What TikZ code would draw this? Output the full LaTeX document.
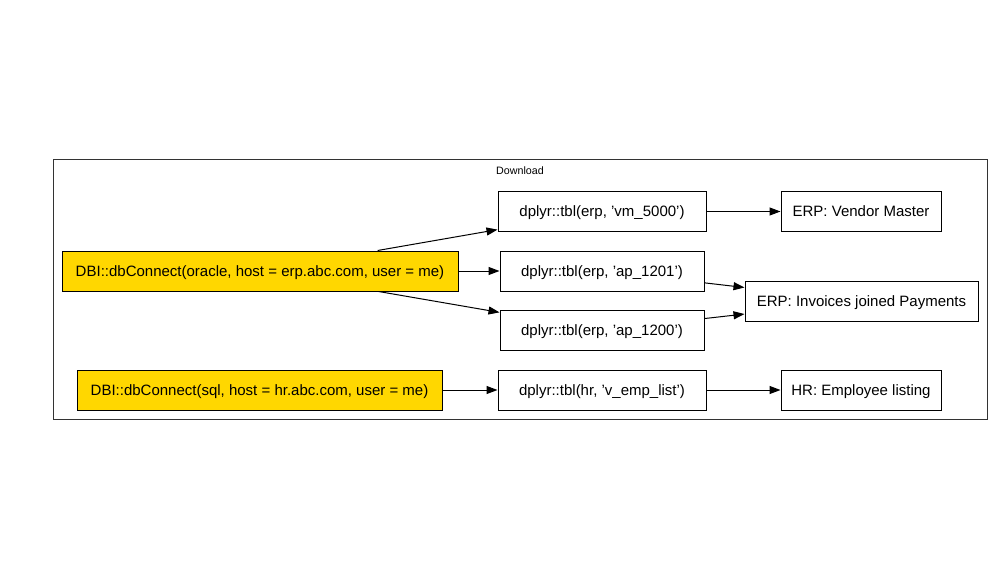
\documentclass[tikz,border=0pt]{standalone}
\usepackage{fontspec}
\setmainfont{Liberation Sans}
\usetikzlibrary{arrows.meta, positioning}
\definecolor{gold}{RGB}{255, 215, 0}

\begin{document}
\begin{tikzpicture}[x=1pt, y=-1pt, every node/.style={draw, rectangle, line width=1pt, minimum height=40pt, inner sep=0pt, text height=11pt, text depth=0.5pt, font=\fontsize{15}{18}\selectfont}, conn/.style={fill=gold}, link/.style={-{Triangle[length=11pt, width=8pt]}, line width=1pt}]
    \useasboundingbox (0,0) rectangle (1000,580);
    \draw[line width=1pt, draw=black!80] (53,160) rectangle (987,419);
    \node[draw=none, minimum height=0pt, text height=7.5pt, text depth=0pt, font=\fontsize{10.7}{12}\selectfont] (lbl) at (520,171) {Download};
    \node[conn, minimum width=396pt] (ora) at (260,271) {DBI::dbConnect(oracle, host = erp.abc.com, user = me)};
    \node[conn, minimum width=365pt] (sql) at (259.5,390) {DBI::dbConnect(sql, host = hr.abc.com, user = me)};
    \node[minimum width=208pt] (vm) at (602,211.5) {dplyr::tbl(erp, 'vm\_5000')};
    \node[minimum width=204pt] (ap1) at (602,271) {dplyr::tbl(erp, 'ap\_1201')};
    \node[minimum width=204pt] (ap0) at (602,330) {dplyr::tbl(erp, 'ap\_1200')};
    \node[minimum width=208pt] (emp) at (602,390) {dplyr::tbl(hr, 'v\_emp\_list')};
    \node[minimum width=160pt] (vend) at (861,211.5) {ERP: Vendor Master};
    \node[minimum width=233pt] (inv) at (861.5,301) {ERP: Invoices joined Payments};
    \node[minimum width=160pt] (hr) at (861,390) {HR: Employee listing};
    \draw[link] (ora) -- (vm);
    \draw[link] (ora) -- (ap1);
    \draw[link] (ora) -- (ap0);
    \draw[link] (sql) -- (emp);
    \draw[link] (vm) -- (vend);
    \draw[link] (ap1) -- (inv);
    \draw[link] (ap0) -- (inv);
    \draw[link] (emp) -- (hr);
\end{tikzpicture}
\end{document}
